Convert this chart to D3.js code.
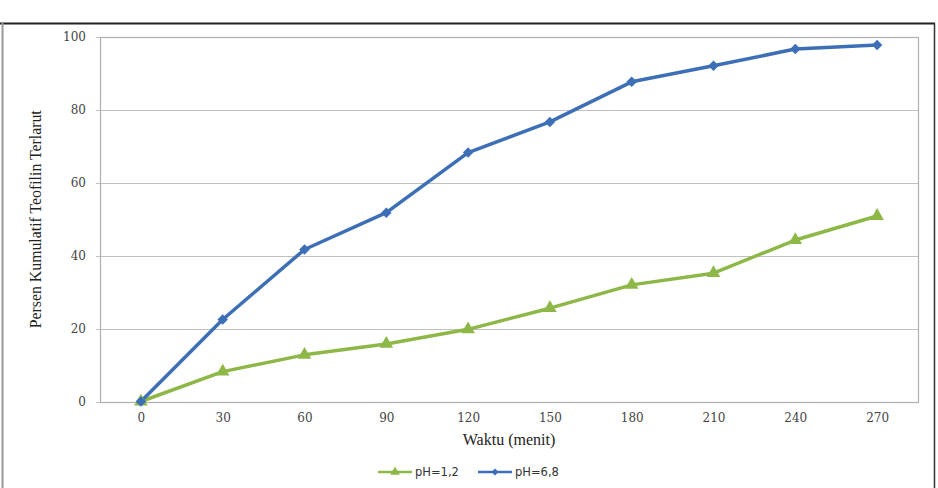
<!DOCTYPE html>
<html><head><meta charset="utf-8">
<script src="https://cdn.jsdelivr.net/npm/d3@7"></script>
<style>body{margin:0;background:#fff}svg{display:block}</style>
</head><body>
<script>
const categories = [0,30,60,90,120,150,180,210,240,270];
const ph12 = [0,8.2,12.8,15.8,19.8,25.6,32.0,35.2,44.3,50.9];
const ph68 = [0,22.5,41.7,51.8,68.3,76.7,87.7,92.1,96.7,97.8];
const yTicks = [0,20,40,60,80,100];

const W=938,H=488;
const svg=d3.select("body").append("svg").attr("width",W).attr("height",H);
svg.append("rect").attr("width",W).attr("height",H).attr("fill","#fff");

// outer frame
svg.append("line").attr("x1",0).attr("x2",935).attr("y1",23.5).attr("y2",23.5).attr("stroke","#222").attr("stroke-width",2);
svg.append("line").attr("x1",2.5).attr("x2",2.5).attr("y1",23).attr("y2",H).attr("stroke","#999").attr("stroke-width",2);
svg.append("line").attr("x1",934.5).attr("x2",934.5).attr("y1",23).attr("y2",H).attr("stroke","#333").attr("stroke-width",1.5);

const L=100,R=918,T=37,B=401.5;
const x=d3.scalePoint().domain(categories).range([L,R]).padding(0.5);
const y=d3.scaleLinear().domain([0,100]).range([B,T]);

const g=svg.append("g");
g.selectAll("line.grid").data(yTicks).enter().append("line")
 .attr("x1",L-4).attr("x2",R).attr("y1",d=>Math.round(y(d))+0.5).attr("y2",d=>Math.round(y(d))+0.5)
 .attr("stroke","#c0c0c0").attr("stroke-width",1);
g.append("rect").attr("x",L+0.5).attr("y",Math.round(T)+0.5).attr("width",R-L).attr("height",Math.round(B)-Math.round(T))
 .attr("fill","none").attr("stroke","#b0b0b0").attr("stroke-width",1.2);

const tickFont="'DejaVu Serif', Georgia, serif";
const yAxis=d3.axisLeft(y).tickValues(yTicks).tickSize(0).tickPadding(14);
const ya=svg.append("g").attr("transform",`translate(${L},0)`).call(yAxis);
ya.select(".domain").remove();
ya.selectAll("text").attr("font-family",tickFont).attr("font-size",12).attr("fill","#444");

const xAxis=d3.axisBottom(x).tickSize(0).tickPadding(12);
const xa=svg.append("g").attr("transform",`translate(0,${B})`).call(xAxis);
xa.select(".domain").remove();
xa.selectAll("text").attr("font-family",tickFont).attr("font-size",12).attr("fill","#444");

svg.append("text").attr("x",(L+R)/2).attr("y",445).attr("text-anchor","middle")
 .attr("font-family","'Liberation Serif','Times New Roman',serif").attr("font-size",16).attr("fill","#222").text("Waktu (menit)");
svg.append("text").attr("transform",`translate(41,${(T+B)/2}) rotate(-90)`).attr("text-anchor","middle")
 .attr("font-family","'Liberation Serif','Times New Roman',serif").attr("font-size",17.5).attr("fill","#222")
 .attr("textLength",218).attr("lengthAdjust","spacingAndGlyphs").text("Persen Kumulatif Teofilin Terlarut");

const line=d3.line().x((d,i)=>x(categories[i])).y(d=>y(d));
const green="#8db848", blue="#3c6fb6";

svg.append("path").datum(ph12).attr("d",line).attr("fill","none").attr("stroke",green).attr("stroke-width",3.5).attr("stroke-linejoin","round");
svg.append("path").datum(ph68).attr("d",line).attr("fill","none").attr("stroke",blue).attr("stroke-width",3.5).attr("stroke-linejoin","round");

const tri=d3.symbol().type(d3.symbolTriangle).size(80);
const dia=d3.symbol().type(d3.symbolSquare).size(55);
svg.selectAll("path.t").data(ph12).enter().append("path")
 .attr("transform",(d,i)=>`translate(${x(categories[i])},${y(d)})`).attr("d",tri).attr("fill",green);
svg.selectAll("path.d").data(ph68).enter().append("path")
 .attr("transform",(d,i)=>`translate(${x(categories[i])},${y(d)}) rotate(45)`).attr("d",dia).attr("fill",blue);

// legend
const legend=[{name:"pH=1,2",c:green,kind:"tri",x0:378},{name:"pH=6,8",c:blue,kind:"dia",x0:478}];
const lg=svg.selectAll("g.lg").data(legend).enter().append("g");
lg.append("line").attr("x1",d=>d.x0).attr("x2",d=>d.x0+34).attr("y1",472).attr("y2",472).attr("stroke",d=>d.c).attr("stroke-width",2.5);
lg.append("path").attr("transform",d=>`translate(${d.x0+17},472)`+(d.kind==="dia"?" rotate(45)":""))
 .attr("d",d=>d3.symbol().type(d.kind==="tri"?d3.symbolTriangle:d3.symbolSquare).size(d.kind==="tri"?40:25)()).attr("fill",d=>d.c);
lg.append("text").attr("x",d=>d.x0+37).attr("y",476).attr("font-family","'DejaVu Sans',Verdana,sans-serif").attr("font-size",11.5).attr("fill","#333").text(d=>d.name);
</script>
</body></html>
